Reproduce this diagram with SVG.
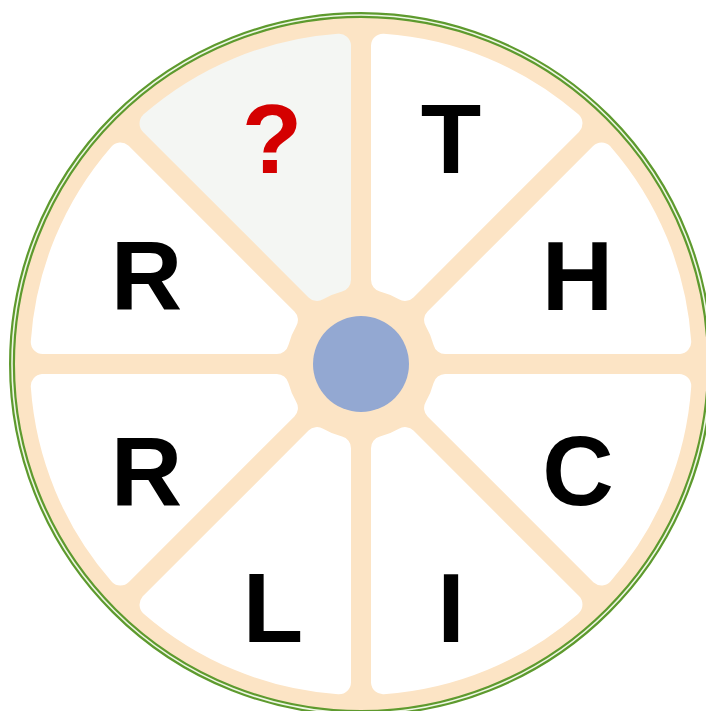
<svg xmlns="http://www.w3.org/2000/svg" xmlns:xlink="http://www.w3.org/1999/xlink" width="706" height="711" viewBox="0 0 706 711">
  <style>
    .sector { fill: #ffffff; stroke: #ffffff; stroke-width: 24; stroke-linejoin: round; }
    .sector.q { fill: #f4f6f3; stroke: #f4f6f3; }
    .letter { font-family: "Liberation Sans", Arial, sans-serif; font-weight: bold; font-size: 99px; text-anchor: middle; fill: #000000; }
    .letter.q { fill: #d40000; }
  </style>
  <defs>
    <path id="wedge" d="M22,-84.17 L22,-318.24 A319,319 0 0 1 209.47,-240.59 L43.96,-75.07 A87,87 0 0 0 22,-84.17 Z"/>
  </defs>
  <rect width="706" height="711" fill="#ffffff"/>
  <g id="wheel">
    <circle cx="361" cy="364" r="349" fill="#fce4c5" stroke="#5e9a2e" stroke-width="6"/>
    <circle cx="361" cy="364" r="349" fill="none" stroke="#eef7e4" stroke-width="1.6"/>
  </g>
  <g id="connectors"/>
  <g id="node-T" transform="translate(361,364)">
    <use xlink:href="#wedge" class="sector"/>
  </g>
  <g id="node-H" transform="translate(361,364) rotate(45)">
    <use xlink:href="#wedge" class="sector"/>
  </g>
  <g id="node-C" transform="translate(361,364) rotate(90)">
    <use xlink:href="#wedge" class="sector"/>
  </g>
  <g id="node-I" transform="translate(361,364) rotate(135)">
    <use xlink:href="#wedge" class="sector"/>
  </g>
  <g id="node-L" transform="translate(361,364) rotate(180)">
    <use xlink:href="#wedge" class="sector"/>
  </g>
  <g id="node-R2" transform="translate(361,364) rotate(225)">
    <use xlink:href="#wedge" class="sector"/>
  </g>
  <g id="node-R1" transform="translate(361,364) rotate(270)">
    <use xlink:href="#wedge" class="sector"/>
  </g>
  <g id="node-Q" transform="translate(361,364) rotate(315)">
    <use xlink:href="#wedge" class="sector q"/>
  </g>
  <g id="hub">
    <circle cx="361" cy="364" r="48" fill="#93a8d2"/>
  </g>
  <g id="labels">
    <text class="letter" x="451" y="173">T</text>
    <text class="letter" x="577.5" y="310">H</text>
    <text class="letter" x="578" y="505">C</text>
    <text class="letter" x="451" y="642">I</text>
    <text class="letter" x="273" y="642">L</text>
    <text class="letter" x="146.5" y="506">R</text>
    <text class="letter" x="146.5" y="310">R</text>
    <text class="letter q" x="272" y="173">?</text>
  </g>
</svg>
